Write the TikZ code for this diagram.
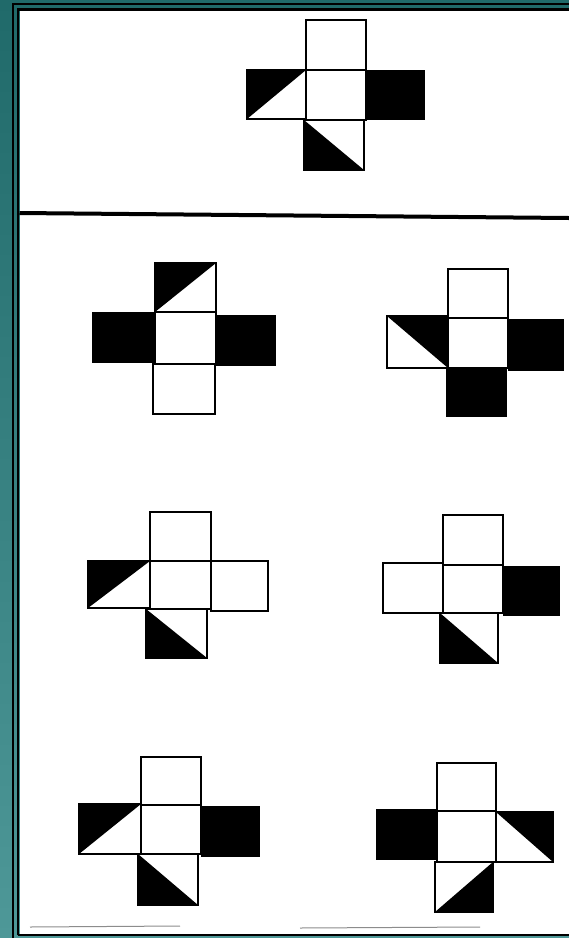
\documentclass[tikz,border=0pt]{standalone}
\definecolor{tealtop}{HTML}{206A6A}
\definecolor{tealbot}{HTML}{4E9898}
\tikzset{
  cellw/.style={draw=black, line width=1.5pt, fill=white},
  blk/.style={fill=black},
  frameline/.style={draw=black, line width=2.5pt},
  faint/.style={draw=black!45, line width=1pt}
}
\begin{document}
\begin{tikzpicture}[x=1pt,y=-1pt]
\useasboundingbox (0,0) rectangle (569,938);
% background and frame
\fill[top color=tealtop, bottom color=tealbot] (0,0) rectangle (569,938);
\fill[white] (19.5,11) rectangle (569,933.5);
\draw[frameline] (13,938) -- (13,4) -- (569,4);
\draw[frameline] (18,935) -- (18,9.5) -- (569,9.5);
\draw[frameline] (18,935) -- (569,935);
% divider
\draw[black, line width=4pt] (19.5,213) -- (569,218);
% faint scan lines near bottom
\draw[faint] (30,927) -- (180,926);
\draw[faint] (300,928) -- (480,927);

% ---------- top figure ----------
\draw[cellw] (306,20) rectangle (366,70);
\draw[cellw] (306,70) rectangle (366,120);
\draw[cellw] (247,70) rectangle (306,119);
\fill[blk] (247,70) -- (306,70) -- (247,119) -- cycle;
\fill[blk] (366,70) rectangle (425,120);
\draw[cellw] (304,120) rectangle (364,170);
\fill[blk] (304,120) -- (304,170) -- (364,170) -- cycle;

% ---------- figure A (row 1, left) ----------
\draw[cellw] (155,263) rectangle (216,312);
\fill[blk] (155,263) -- (216,263) -- (155,312) -- cycle;
\fill[blk] (92,312) rectangle (155,363);
\draw[cellw] (155,312) rectangle (216,364);
\fill[blk] (216,315) rectangle (276,366);
\draw[cellw] (153,364) rectangle (215,414);

% ---------- figure B (row 1, right) ----------
\draw[cellw] (448,269) rectangle (508,318);
\draw[cellw] (387,316) rectangle (448,368);
\fill[blk] (387,316) -- (448,316) -- (448,368) -- cycle;
\draw[cellw] (448,318) rectangle (508,368);
\fill[blk] (508,319) rectangle (564,371);
\fill[blk] (446,368) rectangle (507,417);

% ---------- figure C (row 2, left) ----------
\draw[cellw] (150,512) rectangle (211,561);
\draw[cellw] (88,561) rectangle (150,608);
\fill[blk] (88,561) -- (150,561) -- (88,608) -- cycle;
\draw[cellw] (150,561) rectangle (211,609);
\draw[cellw] (211,561) rectangle (268,611);
\draw[cellw] (146,609) rectangle (207,658);
\fill[blk] (146,609) -- (146,658) -- (207,658) -- cycle;

% ---------- figure D (row 2, right) ----------
\draw[cellw] (443,515) rectangle (503,565);
\draw[cellw] (383,563) rectangle (443,613);
\draw[cellw] (443,565) rectangle (503,613);
\fill[blk] (503,566) rectangle (560,616);
\draw[cellw] (440,613) rectangle (498,663);
\fill[blk] (440,613) -- (440,663) -- (498,663) -- cycle;

% ---------- figure E (row 3, left) ----------
\draw[cellw] (141,757) rectangle (201,805);
\draw[cellw] (79,804) rectangle (141,854);
\fill[blk] (79,804) -- (141,804) -- (79,854) -- cycle;
\draw[cellw] (141,805) rectangle (201,854);
\fill[blk] (201,806) rectangle (260,857);
\draw[cellw] (138,854) rectangle (198,905);
\fill[blk] (138,854) -- (138,905) -- (198,905) -- cycle;

% ---------- figure F (row 3, right) ----------
\draw[cellw] (437,763) rectangle (496,811);
\fill[blk] (376,809) rectangle (437,860);
\draw[cellw] (437,811) rectangle (496,862);
\draw[cellw] (496,812) rectangle (553,862);
\fill[blk] (496,812) -- (553,812) -- (553,862) -- cycle;
\draw[cellw] (435,862) rectangle (493,912);
\fill[blk] (435,912) -- (493,912) -- (493,862) -- cycle;
\end{tikzpicture}
\end{document}
